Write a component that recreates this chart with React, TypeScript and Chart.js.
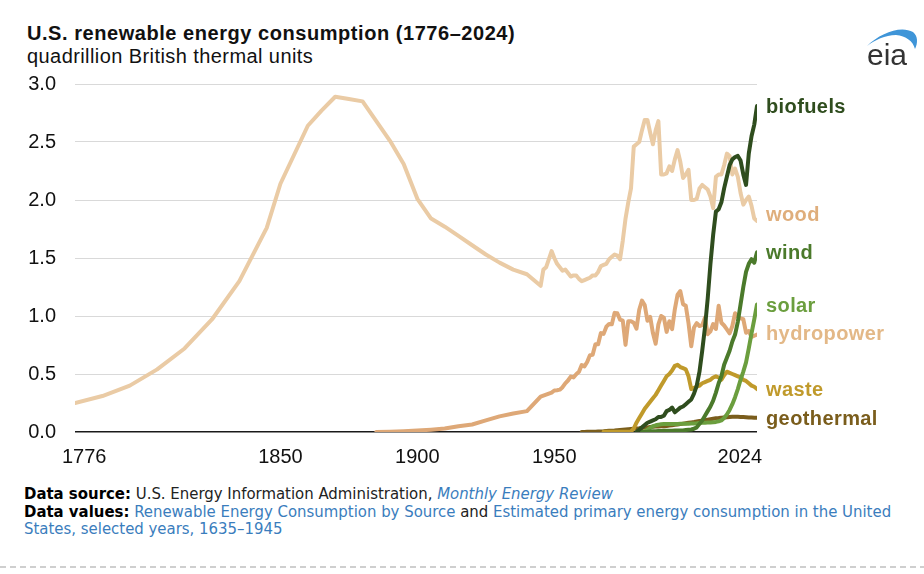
import { useEffect, useRef } from 'react'
import { Chart, registerables } from 'chart.js'

Chart.register(...registerables)

// x axis tick labels
const tickYears = [1776, 1850, 1900, 1950, 2024]

// selected years before 1949 (historical estimates)
const woodEarlyYears = [
  1775, 1785, 1795, 1805, 1815, 1825, 1835, 1845, 1850, 1855, 1860, 1865, 1870, 1875, 1880,
  1885, 1890, 1895, 1900, 1905, 1910, 1915, 1920, 1925, 1930, 1935, 1940, 1945, 1946, 1947,
]
const woodEarly = [
  0.25, 0.31, 0.4, 0.54, 0.72, 0.97, 1.3, 1.76, 2.14, 2.39, 2.64, 2.77, 2.89, 2.87, 2.85,
  2.68, 2.51, 2.31, 2.01, 1.84, 1.77, 1.69, 1.61, 1.53, 1.46, 1.4, 1.36, 1.26, 1.4, 1.42,
]
const hydroEarlyYears = [1885, 1890, 1895, 1900, 1905, 1910, 1915, 1920, 1925, 1930, 1935, 1940, 1945]
const hydroEarly = [0, 0.002, 0.006, 0.012, 0.02, 0.03, 0.05, 0.065, 0.1, 0.135, 0.16, 0.18, 0.305]

// annual values 1949-2024
const annualYears = Array.from({ length: 76 }, (_, i) => 1949 + i)

const woodAnnual = [
  1.56, 1.5, 1.45, 1.42, 1.39, 1.4, 1.37, 1.34, 1.35, 1.35,
  1.32, 1.3, 1.31, 1.32, 1.33, 1.35, 1.35, 1.38, 1.43, 1.44,
  1.45, 1.49, 1.51, 1.53, 1.52, 1.49, 1.65, 1.84, 1.98, 2.1,
  2.46, 2.48, 2.5, 2.6, 2.69, 2.69, 2.58, 2.48, 2.6, 2.68,
  2.22, 2.22, 2.23, 2.29, 2.25, 2.35, 2.43, 2.33, 2.19, 2.22,
  2.26, 2.0, 2.0, 2.01, 2.1, 2.13, 2.11, 2.09, 2.03, 1.93,
  2.2, 2.22, 2.22, 2.3, 2.4, 2.38, 2.22, 2.27, 2.2, 2.06,
  1.96, 2.0, 2.03, 1.95, 1.84, 1.82,
]
const hydroAnnual = [
  0.34, 0.358, 0.36, 0.365, 0.386, 0.42, 0.444, 0.478, 0.471, 0.498,
  0.519, 0.577, 0.566, 0.604, 0.662, 0.665, 0.757, 0.757, 0.853, 0.846,
  0.908, 0.931, 0.928, 1.027, 1.024, 0.969, 0.96, 0.751, 0.955, 0.955,
  0.942, 0.891, 1.054, 1.133, 1.095, 0.959, 0.993, 0.853, 0.761, 0.928,
  1.0, 0.986, 0.863, 0.955, 0.887, 1.058, 1.184, 1.215, 1.102, 1.088,
  0.938, 0.74, 0.901, 0.938, 0.914, 0.921, 0.986, 0.843, 0.867, 0.931,
  0.888, 1.088, 0.942, 0.918, 0.884, 0.85, 0.914, 1.024, 0.996, 0.979,
  0.972, 0.856, 0.87, 0.819, 0.83, 0.84,
]
// 1960-2024
const geothermal = [
  0.001, 0.001, 0.002, 0.002, 0.003, 0.003, 0.004, 0.005, 0.006, 0.008,
  0.01, 0.011, 0.013, 0.016, 0.018, 0.02, 0.022, 0.024, 0.026, 0.028,
  0.03, 0.032, 0.035, 0.038, 0.04, 0.043, 0.045, 0.047, 0.048, 0.049,
  0.05, 0.052, 0.055, 0.058, 0.062, 0.065, 0.068, 0.072, 0.076, 0.08,
  0.083, 0.086, 0.09, 0.094, 0.098, 0.102, 0.106, 0.11, 0.114, 0.118,
  0.12, 0.123, 0.126, 0.128, 0.13, 0.132, 0.132, 0.131, 0.13, 0.129,
  0.128, 0.126, 0.125, 0.123, 0.122,
]
// 1968-2024
const waste = [
  0.002, 0.002, 0.002, 0.002, 0.002, 0.002, 0.002, 0.002, 0.002, 0.002, 0.005,
  0.03, 0.08, 0.12, 0.16, 0.2, 0.23, 0.26, 0.29, 0.32, 0.36,
  0.4, 0.44, 0.48, 0.5, 0.53, 0.57, 0.58, 0.56, 0.55, 0.54,
  0.48, 0.37, 0.38, 0.39, 0.4, 0.42, 0.43, 0.44, 0.45, 0.47,
  0.48, 0.47, 0.45, 0.49, 0.52, 0.51, 0.5, 0.49, 0.48, 0.47,
  0.45, 0.44, 0.42, 0.4, 0.39, 0.37,
]
// 1980-2024
const biofuels = [
  0.0, 0.02, 0.04, 0.06, 0.08, 0.09, 0.1, 0.11, 0.13, 0.13,
  0.14, 0.18, 0.19, 0.21, 0.17, 0.19, 0.21, 0.22, 0.24, 0.26,
  0.28, 0.33, 0.4, 0.52, 0.7, 0.9, 1.15, 1.45, 1.7, 1.9,
  1.92, 1.98, 2.1, 2.2, 2.3, 2.35, 2.37, 2.38, 2.34, 2.22,
  2.13, 2.4, 2.55, 2.65, 2.81,
]
// 1982-2024
const wind = [
  0.0, 0.001, 0.002, 0.004, 0.006, 0.007, 0.008, 0.009, 0.01, 0.01,
  0.01, 0.011, 0.012, 0.012, 0.013, 0.014, 0.018, 0.02, 0.022, 0.028,
  0.04, 0.07, 0.1, 0.14, 0.18, 0.22, 0.27, 0.34, 0.42, 0.48,
  0.58, 0.64, 0.7, 0.78, 0.84, 0.95, 1.1, 1.25, 1.38, 1.45,
  1.49, 1.46, 1.55,
]
// 1982-2024
const solar = [
  0.0, 0.005, 0.02, 0.035, 0.05, 0.058, 0.063, 0.066, 0.068, 0.068,
  0.069, 0.07, 0.07, 0.07, 0.071, 0.071, 0.072, 0.072, 0.073, 0.074,
  0.075, 0.078, 0.08, 0.08, 0.081, 0.082, 0.083, 0.087, 0.092, 0.1,
  0.12, 0.15, 0.19, 0.24, 0.3, 0.37, 0.45, 0.52, 0.6, 0.72,
  0.85, 0.97, 1.1,
]

const pts = (years: number[], values: number[]) => values.map((v, i) => ({ x: years[i], y: v }))
const from = (year: number) => annualYears.slice(year - 1949)

interface Series {
  name: string
  color: string
  labelColor: string
  nudge: number
  order: number
  data: { x: number; y: number }[]
}

const series: Series[] = [
  { name: 'biofuels', color: '#2f4d1e', labelColor: '#2f4d1e', nudge: 0, order: 1, data: pts(from(1980), biofuels) },
  {
    name: 'wood', color: '#eacba5', labelColor: '#dfae7c', nudge: -7, order: 7,
    data: [...pts(woodEarlyYears, woodEarly), ...pts(annualYears, woodAnnual)],
  },
  { name: 'wind', color: '#4b7a2b', labelColor: '#4b7a2b', nudge: 0, order: 2, data: pts(from(1982), wind) },
  { name: 'solar', color: '#6b9e3e', labelColor: '#6b9e3e', nudge: 0, order: 3, data: pts(from(1982), solar) },
  {
    name: 'hydropower', color: '#dea877', labelColor: '#e3b887', nudge: -2, order: 6,
    data: [...pts(hydroEarlyYears, hydroEarly), ...pts(annualYears, hydroAnnual)],
  },
  { name: 'waste', color: '#c09a2b', labelColor: '#c09a2b', nudge: 0, order: 4, data: pts(from(1968), waste) },
  { name: 'geothermal', color: '#7a5d1c', labelColor: '#7a5d1c', nudge: 0, order: 5, data: pts(from(1960), geothermal) },
]

const FONT = '"Liberation Sans", Arial, Helvetica, sans-serif'

const xLabelPlugin = {
  id: 'xLabels',
  afterDraw(chart: any) {
    const { ctx, chartArea, scales } = chart
    ctx.save()
    ctx.font = `20px ${FONT}`
    ctx.fillStyle = '#111'
    ctx.textAlign = 'left'
    ctx.textBaseline = 'alphabetic'
    tickYears.forEach(year => {
      const text = String(year)
      const w = ctx.measureText(text).width
      let x = scales.x.getPixelForValue(year) - w / 2
      x = Math.max(chartArea.left - 13, Math.min(x, chartArea.right + 5 - w))
      ctx.fillText(text, x, chartArea.bottom + 31)
    })
    ctx.restore()
  },
}

const seriesLabelPlugin = {
  id: 'seriesLabels',
  afterDatasetsDraw(chart: any) {
    const { ctx, chartArea, scales } = chart
    ctx.save()
    ctx.font = `bold 20px ${FONT}`
    ctx.letterSpacing = '0.4px'
    ctx.textAlign = 'left'
    ctx.textBaseline = 'alphabetic'
    series.forEach(s => {
      const last = s.data[s.data.length - 1].y
      const y = scales.y.getPixelForValue(last) + 7.2 + s.nudge
      ctx.fillStyle = s.labelColor
      ctx.fillText(s.name, chartArea.right + 9, y)
    })
    ctx.restore()
  },
}

function RenewablesChart() {
  const chartRef = useRef<HTMLCanvasElement>(null)
  const chartInstance = useRef<Chart | null>(null)

  useEffect(() => {
    if (!chartRef.current) return
    if (chartInstance.current) chartInstance.current.destroy()
    const ctx = chartRef.current.getContext('2d')
    if (!ctx) return

    chartInstance.current = new Chart(ctx, {
      type: 'line',
      data: {
        datasets: series.map(s => ({
          label: s.name,
          data: s.data,
          borderColor: s.color,
          backgroundColor: s.color,
          borderWidth: 4,
          pointRadius: 0,
          tension: 0,
          fill: false,
          order: s.order,
          borderJoinStyle: 'round' as const,
          borderCapStyle: 'round' as const,
        })),
      },
      options: {
        responsive: true,
        maintainAspectRatio: false,
        animation: false,
        events: [],
        layout: { padding: { left: 27, right: 167, top: 14, bottom: 8 } },
        plugins: {
          legend: { display: false },
          tooltip: { enabled: false },
        },
        scales: {
          x: {
            type: 'linear',
            min: 1775,
            max: 2024,
            grid: { display: false },
            border: { display: false },
            ticks: { display: false },
            afterBuildTicks: (scale: any) => {
              scale.ticks = tickYears.map(v => ({ value: v }))
            },
            afterFit: (scale: any) => {
              scale.height = 30
            },
          },
          y: {
            min: 0,
            max: 3,
            border: { display: false },
            grid: {
              drawTicks: false,
              color: (c: any) => (c.tick && c.tick.value === 0 ? '#1a1a1a' : '#d9d9d9'),
              lineWidth: (c: any) => (c.tick && c.tick.value === 0 ? 1.5 : 1),
            },
            ticks: {
              stepSize: 0.5,
              padding: 19,
              color: '#111',
              font: { family: FONT, size: 20 },
              callback: (v: any) => Number(v).toFixed(1),
            },
            afterFit: (scale: any) => {
              scale.width = 48
            },
          },
        },
      },
      plugins: [xLabelPlugin, seriesLabelPlugin],
    })

    return () => {
      if (chartInstance.current) {
        chartInstance.current.destroy()
        chartInstance.current = null
      }
    }
  }, [])

  return <canvas ref={chartRef} />
}

export default function App() {
  const link = { color: '#3a7dbd' }
  return (
    <div style={{ position: 'absolute', left: 0, top: 0, width: 924, height: 574, background: '#fff', overflow: 'hidden' }}>
      <div style={{ position: 'absolute', left: 27, top: 22, font: `bold 20px ${FONT}`, lineHeight: '23px', letterSpacing: '0.55px', color: '#111', whiteSpace: 'nowrap' }}>
        U.S. renewable energy consumption (1776–2024)
      </div>
      <div style={{ position: 'absolute', left: 27, top: 45, font: `20px ${FONT}`, lineHeight: '23px', letterSpacing: '0.42px', color: '#111', whiteSpace: 'nowrap' }}>
        quadrillion British thermal units
      </div>
      <div style={{ position: 'absolute', left: 0, top: 53, width: 924, height: 417 }}>
        <RenewablesChart />
      </div>
      <div style={{ position: 'absolute', left: 24, top: 485, font: '16.6px "DejaVu Sans Condensed", "DejaVu Sans", sans-serif', fontStretch: 'condensed', lineHeight: '17.5px', color: '#222', whiteSpace: 'nowrap' }}>
        <div>
          <b style={{ color: '#000' }}>Data source:</b> U.S. Energy Information Administration, <i style={link}>Monthly Energy Review</i>
        </div>
        <div>
          <b style={{ color: '#000' }}>Data values:</b> <span style={link}>Renewable Energy Consumption by Source</span> and{' '}
          <span style={link}>Estimated primary energy consumption in the United</span>
        </div>
        <div style={link}>States, selected years, 1635–1945</div>
      </div>
      <svg width={924} height={574} style={{ position: 'absolute', left: 0, top: 0, pointerEvents: 'none' }}>
        <path d="M867,46 C880,33 901,25 913,32 C918,36 918,43 915,49 C913,41 906,36 896,35 C885,35 875,40 867,46 Z" fill="#3f95d8" />
        <text x={867} y={65} fontFamily={FONT} fontSize={30} fill="#333">eia</text>
        <line x1={0} y1={567} x2={924} y2={567} stroke="#cfcfcf" strokeWidth={2} strokeDasharray="6 4" />
      </svg>
    </div>
  )
}
